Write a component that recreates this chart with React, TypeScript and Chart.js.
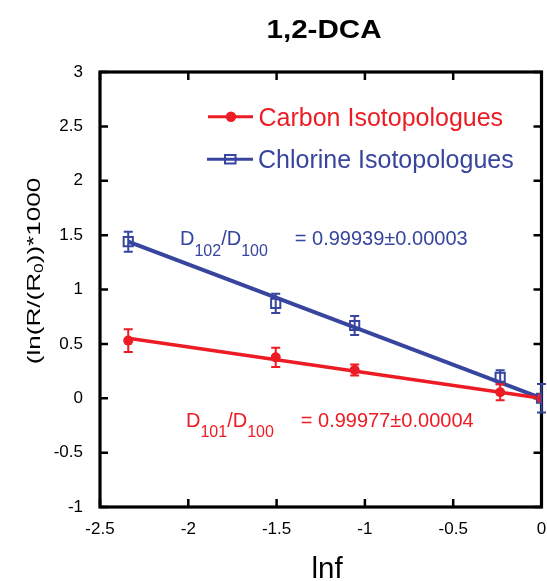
import React, { useEffect, useRef } from "react";
import { Chart, registerables } from "chart.js";

Chart.register(...registerables);

// ---- data ----
const lnF = [-2.34, -1.505, -1.058, -0.234, 0];
const carbon = [0.53, 0.376, 0.26, 0.055, 0];
const carbonErr = [0.105, 0.088, 0.05, 0.074, 0];
const chlorine = [1.44, 0.873, 0.669, 0.193, 0];
const chlorineErr = [0.092, 0.089, 0.087, 0.064, 0.13];
const fitX = [-2.34, 0];
const carbonFit = [0.551, 0];
const chlorineFit = [1.44, 0];
const xTicks = [-2.5, -2, -1.5, -1, -0.5, 0];
const yTicks = [-1, -0.5, 0, 0.5, 1, 1.5, 2, 2.5, 3];
const titleText = "1,2-DCA";
const xTitle = "lnf";
const legendCarbon = "Carbon Isotopologues";
const legendChlorine = "Chlorine Isotopologues";
const chlorineNote = ["D", "102", "/", "D", "100", "= 0.99939±0.00003"];
const carbonNote = ["D", "101", "/", "D", "100", "= 0.99977±0.00004"];

const RED = "#ED1C24";
const BLUE = "#37459E";
const FAMILY = '"Liberation Sans", Arial, Helvetica, sans-serif';

function drawText(
  ctx: CanvasRenderingContext2D,
  text: string,
  x: number,
  y: number,
  font: string,
  color: string,
  sx = 1,
  align: CanvasTextAlign = "left"
) {
  ctx.save();
  ctx.font = font;
  ctx.fillStyle = color;
  ctx.textBaseline = "alphabetic";
  ctx.textAlign = align;
  ctx.translate(x, y);
  ctx.scale(sx, 1);
  ctx.fillText(text, 0, 0);
  const w = ctx.measureText(text).width * sx;
  ctx.restore();
  return w;
}

function measure(ctx: CanvasRenderingContext2D, text: string, font: string) {
  ctx.save();
  ctx.font = font;
  const w = ctx.measureText(text).width;
  ctx.restore();
  return w;
}

function drawNote(
  ctx: CanvasRenderingContext2D,
  parts: string[],
  x: number,
  y: number,
  color: string
) {
  const main = `20px ${FAMILY}`;
  const sub = `16px ${FAMILY}`;
  let cx = x;
  cx += drawText(ctx, parts[0], cx, y, main, color);
  cx += drawText(ctx, parts[1], cx, y + 10.5, sub, color);
  cx += drawText(ctx, parts[2], cx, y, main, color);
  cx += drawText(ctx, parts[3], cx, y, main, color);
  cx += drawText(ctx, parts[4], cx, y + 10.5, sub, color);
  cx += 27;
  drawText(ctx, parts[5], cx, y, main, color);
}

const framePlugin = {
  id: "frame",
  beforeDatasetsDraw(chart: any) {
    const { ctx, chartArea: a, scales } = chart;
    const xs = scales.x;
    const ys = scales.y;
    ctx.save();
    ctx.strokeStyle = "#000";
    ctx.lineWidth = 2.5;
    const tl = 8;
    ctx.beginPath();
    for (const v of xTicks) {
      const px = xs.getPixelForValue(v);
      ctx.moveTo(px, a.bottom);
      ctx.lineTo(px, a.bottom - tl);
      ctx.moveTo(px, a.top);
      ctx.lineTo(px, a.top + tl);
    }
    for (const v of yTicks) {
      const py = ys.getPixelForValue(v);
      ctx.moveTo(a.left, py);
      ctx.lineTo(a.left + tl, py);
      ctx.moveTo(a.right, py);
      ctx.lineTo(a.right - tl, py);
    }
    ctx.stroke();
    ctx.lineWidth = 3.2;
    ctx.strokeRect(a.left, a.top, a.right - a.left, a.bottom - a.top);
    ctx.restore();
  },
  afterDatasetsDraw(chart: any) {
    const { ctx, scales } = chart;
    const xs = scales.x;
    const ys = scales.y;
    const bars = (vals: number[], errs: number[], color: string) => {
      ctx.save();
      ctx.strokeStyle = color;
      ctx.lineWidth = 2;
      ctx.beginPath();
      vals.forEach((v, i) => {
        const e = errs[i];
        if (!e) return;
        const px = xs.getPixelForValue(lnF[i]);
        const t = ys.getPixelForValue(v + e);
        const b = ys.getPixelForValue(v - e);
        ctx.moveTo(px, t);
        ctx.lineTo(px, b);
        ctx.moveTo(px - 4.5, t);
        ctx.lineTo(px + 4.5, t);
        ctx.moveTo(px - 4.5, b);
        ctx.lineTo(px + 4.5, b);
      });
      ctx.stroke();
      ctx.restore();
    };
    bars(chlorine, chlorineErr, BLUE);
    bars(carbon, carbonErr, RED);
  },
  afterDraw(chart: any) {
    const { ctx } = chart;
    // title
    drawText(ctx, titleText, 324, 38, `bold 25.5px ${FAMILY}`, "#000", 1.16, "center");
    // x title
    drawText(ctx, xTitle, 327, 578, `29.5px ${FAMILY}`, "#000", 1, "center");
    // y title (rotated, with subscript)
    {
      const sx = 1.45;
      const mainF = `18px ${FAMILY}`;
      const subF = `12px ${FAMILY}`;
      const segs: [string, boolean][] = [["(ln(R/(R", false], ["0", true], ["))*1000", false]];
      let total = 0;
      for (const [t, s] of segs) total += measure(ctx, t, s ? subF : mainF) * sx;
      ctx.save();
      ctx.translate(40, 271);
      ctx.rotate(-Math.PI / 2);
      let cx = -total / 2;
      for (const [t, s] of segs) {
        cx += drawText(ctx, t, cx, s ? 3 : 0, s ? subF : mainF, "#000", sx);
      }
      ctx.restore();
    }
    // legend
    ctx.save();
    ctx.lineWidth = 3;
    ctx.strokeStyle = RED;
    ctx.beginPath();
    ctx.moveTo(208, 116.7);
    ctx.lineTo(253, 116.7);
    ctx.stroke();
    ctx.fillStyle = RED;
    ctx.beginPath();
    ctx.arc(231, 116.7, 5.2, 0, Math.PI * 2);
    ctx.fill();
    ctx.strokeStyle = BLUE;
    ctx.beginPath();
    ctx.moveTo(207, 159.3);
    ctx.lineTo(253, 159.3);
    ctx.stroke();
    ctx.lineWidth = 2;
    ctx.strokeRect(225, 155, 10.5, 8.5);
    ctx.restore();
    drawText(ctx, legendCarbon, 258.5, 126, `25px ${FAMILY}`, RED);
    drawText(ctx, legendChlorine, 258, 167.7, `25px ${FAMILY}`, BLUE);
    // annotations
    drawNote(ctx, chlorineNote, 180, 245, BLUE);
    drawNote(ctx, carbonNote, 186, 426.7, RED);
  },
};

export default function App() {
  const ref = useRef<HTMLCanvasElement | null>(null);
  useEffect(() => {
    const canvas = ref.current;
    if (!canvas) return;
    const pts = (ys: number[]) => ys.map((y, i) => ({ x: lnF[i], y }));
    const fit = (ys: number[]) => ys.map((y, i) => ({ x: fitX[i], y }));
    const chart = new Chart(canvas, {
      type: "scatter",
      data: {
        datasets: [
          {
            label: "Carbon points",
            data: pts(carbon),
            pointStyle: "circle",
            pointRadius: 5,
            pointBorderWidth: 0,
            pointBackgroundColor: RED,
            borderColor: RED,
            showLine: false,
          },
          {
            label: "Chlorine points",
            data: pts(chlorine),
            pointStyle: "rect",
            pointRadius: 6.5,
            pointBorderWidth: 2,
            pointBackgroundColor: "rgba(0,0,0,0)",
            pointBorderColor: BLUE,
            borderColor: BLUE,
            showLine: false,
          },
          {
            label: "Carbon fit",
            data: fit(carbonFit),
            showLine: true,
            pointRadius: 0,
            borderColor: RED,
            borderWidth: 3.5,
          },
          {
            label: "Chlorine fit",
            data: fit(chlorineFit),
            showLine: true,
            pointRadius: 0,
            borderColor: BLUE,
            borderWidth: 4,
          },
        ],
      },
      options: {
        animation: false,
        responsive: false,
        devicePixelRatio: 1,
        layout: { padding: { top: 72, right: 2, left: 0, bottom: 0 } },
        plugins: {
          legend: { display: false },
          tooltip: { enabled: false },
          title: { display: false },
        },
        events: [],
        scales: {
          x: {
            type: "linear",
            min: -2.5,
            max: 0,
            grid: { display: false, drawTicks: false },
            border: { display: false },
            afterBuildTicks: (s: any) => {
              s.ticks = xTicks.map((v) => ({ value: v }));
            },
            afterFit: (s: any) => {
              s.height = 74;
              s.paddingLeft = 0;
              s.paddingRight = 0;
            },
            ticks: {
              autoSkip: false,
              maxRotation: 0,
              padding: 12,
              color: "#000",
              font: { family: FAMILY, size: 17 },
              callback: (v: any) => String(v),
            },
          },
          y: {
            type: "linear",
            min: -1,
            max: 3,
            grid: { display: false, drawTicks: false },
            border: { display: false },
            afterBuildTicks: (s: any) => {
              s.ticks = yTicks.map((v) => ({ value: v }));
            },
            afterFit: (s: any) => {
              s.width = 100;
              s.paddingTop = 0;
              s.paddingBottom = 0;
            },
            ticks: {
              autoSkip: false,
              padding: 17,
              color: "#000",
              font: { family: FAMILY, size: 17 },
              callback: (v: any) => String(v),
            },
          },
        },
      },
      plugins: [framePlugin],
    } as any);
    return () => chart.destroy();
  }, []);
  return (
    <div
      style={{
        position: "absolute",
        left: 0,
        top: 0,
        width: 547,
        height: 581,
        overflow: "hidden",
        background: "#fff",
      }}
    >
      <canvas ref={ref} width={550} height={581} style={{ display: "block" }} />
    </div>
  );
}
